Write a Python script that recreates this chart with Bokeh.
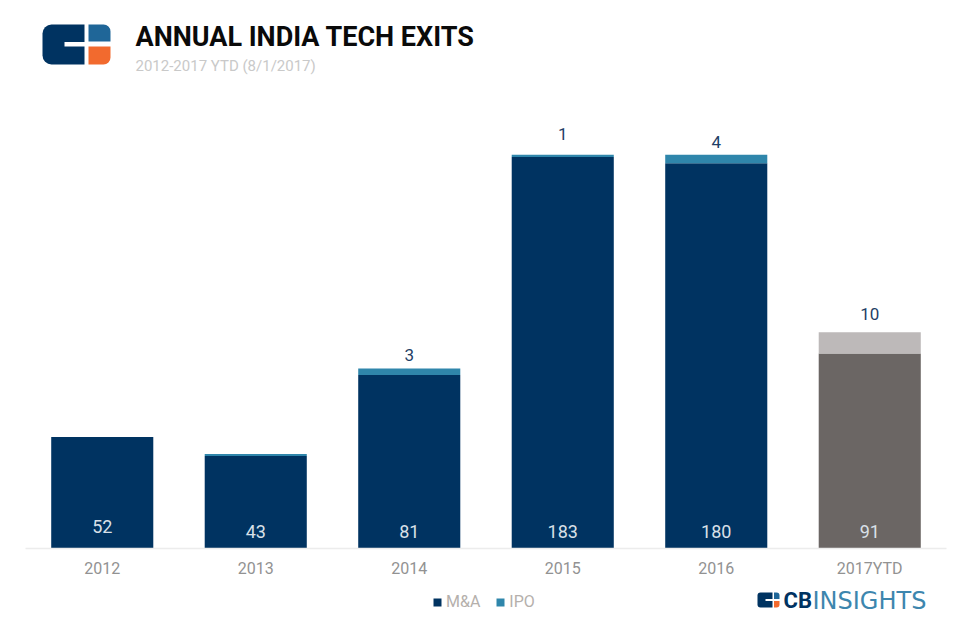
from bokeh.embed import file_html
from bokeh.resources import INLINE
from bokeh.plotting import figure
from bokeh.models import (ColumnDataSource, FactorRange, Range1d, Label, BoxAnnotation,
                          Legend, LegendItem)

years = ["2012", "2013", "2014", "2015", "2016", "2017YTD"]
mna = [52, 43, 81, 183, 180, 91]
ipo = [0, 1, 3, 1, 4, 10]
labelled_years = ["2014", "2015", "2016", "2017YTD"]
labelled_ipo = [3, 1, 4, 10]

W, H = 966, 628
FL = 5
BASE = 547.5
STEP = 153.5
NAVY, TEAL, DGREY, LGREY = "#003361", "#2f86ab", "#6b6664", "#bdb9b9"
mna_colors = [NAVY] * 5 + [DGREY]
ipo_colors = [TEAL] * 5 + [LGREY]
inner_off = [-21.5, -16.5, -16.5, -16.5, -16.5, -16.5]
top_off = [-13.5, -20.5, -12.5, -18]

tops = [m + i for m, i in zip(mna, ipo)]
PX_PER_UNIT = 2.137
p = figure(width=W, height=H, output_backend="svg", toolbar_location=None,
           x_range=FactorRange(factors=years, range_padding=20 / STEP, range_padding_units="absolute"),
           y_range=Range1d(-(H - BASE) / PX_PER_UNIT, BASE / PX_PER_UNIT),
           min_border_left=FL, min_border_right=0, min_border_top=0, min_border_bottom=0,
           outline_line_color=None, background_fill_color="white", border_fill_color="white")
p.grid.visible = False
p.yaxis.visible = False
ax = p.xaxis[0]
ax.fixed_location = 0
ax.bounds = (0, 6)
ax.axis_line_color = "#ececec"
ax.axis_line_width = 1.5
ax.major_tick_line_color = None
ax.minor_tick_line_color = None
ax.major_label_text_font = "Roboto"
ax.major_label_text_font_size = "16px"
ax.major_label_text_color = "#929292"
ax.major_label_standoff = 5

src = ColumnDataSource(dict(year=years, mna=mna, ipo=ipo, top=tops, mc=mna_colors, ic=ipo_colors,
                            txt=[str(v) for v in mna], off=inner_off))
r_m = p.vbar(x="year", top="mna", bottom=0, width=0.665, fill_color="mc", line_color=None, source=src)
r_i = p.vbar(x="year", top="top", bottom="mna", width=0.665, fill_color="ic", line_color=None, source=src)
p.text(x="year", y=0, text="txt", y_offset="off", text_color="#d9e0e8", text_font={"value": "Roboto"},
       text_font_size="18px", text_align="center", text_baseline="middle", source=src)

top_lookup = dict(zip(years, tops))
src2 = ColumnDataSource(dict(year=labelled_years, y=[top_lookup[k] for k in labelled_years],
                             txt=[str(v) for v in labelled_ipo], off=top_off))
p.text(x="year", y="y", text="txt", y_offset="off", text_color="#1f3f66",
       text_font={"value": "Roboto"}, text_font_size="17px",
       text_align="center", text_baseline="middle", source=src2)


def box(l, r, t, b, color, radius=0):
    p.add_layout(BoxAnnotation(left=l - FL, right=r - FL, top=H - t, bottom=H - b,
                               left_units="screen", right_units="screen",
                               top_units="screen", bottom_units="screen",
                               fill_color=color, fill_alpha=1, line_color=None,
                               border_radius=radius, level="overlay"))


def label(x, y, text, **kw):
    p.add_layout(Label(x=x - FL, y=H - y, x_units="screen", y_units="screen", text=text, **kw))


legend = Legend(items=[LegendItem(label="M&A", renderers=[r_m], index=0),
                       LegendItem(label="IPO", renderers=[r_i], index=0)],
                orientation="horizontal", location=(427, 17), padding=0, margin=0, spacing=15,
                glyph_width=10, glyph_height=10, label_standoff=4,
                label_text_font="Roboto", label_text_font_size="16px", label_text_color="#b5b0ac",
                background_fill_alpha=0, border_line_color=None)
p.add_layout(legend, "center")

# main logo
box(42, 84, 24, 64, "#003361", dict(top_left=9, bottom_left=9, top_right=0, bottom_right=0))
box(64, 85, 41.5, 46, "white")
box(88, 110, 24, 41, "#1f6698", dict(top_left=0, top_right=7, bottom_left=0, bottom_right=0))
box(88, 110, 46, 64, "#f26a2e", dict(top_left=0, top_right=0, bottom_left=0, bottom_right=7))

label(135, 36, "ANNUAL INDIA TECH EXITS", text_font="Roboto", text_font_style="bold",
      text_font_size="27px", text_color="#0a0a0a", text_baseline="middle")
label(135, 65.5, "2012-2017  YTD (8/1/2017)", text_font="Roboto", text_font_size="15px",
      text_color="#c9c9c9", text_baseline="middle")

# small logo
box(757, 772, 592, 607, "#003361", dict(top_left=3, bottom_left=3, top_right=0, bottom_right=0))
box(765, 773, 598.5, 600.5, "white")
box(773.5, 779, 592, 598.5, "#1f6698", dict(top_left=0, top_right=3, bottom_left=0, bottom_right=0))
box(773.5, 779, 600.5, 607, "#f26a2e", dict(top_left=0, top_right=0, bottom_left=0, bottom_right=3))
label(783, 600, "CB", text_font="Roboto", text_font_style="bold", text_font_size="22px",
      text_color="#003361", text_baseline="middle")
label(812, 600, "INSIGHTS", text_font="DejaVu Sans", text_font_size="24px",
      text_color="#3d86ae", text_baseline="middle")

open("out.html", "w").write(file_html(p, INLINE))
